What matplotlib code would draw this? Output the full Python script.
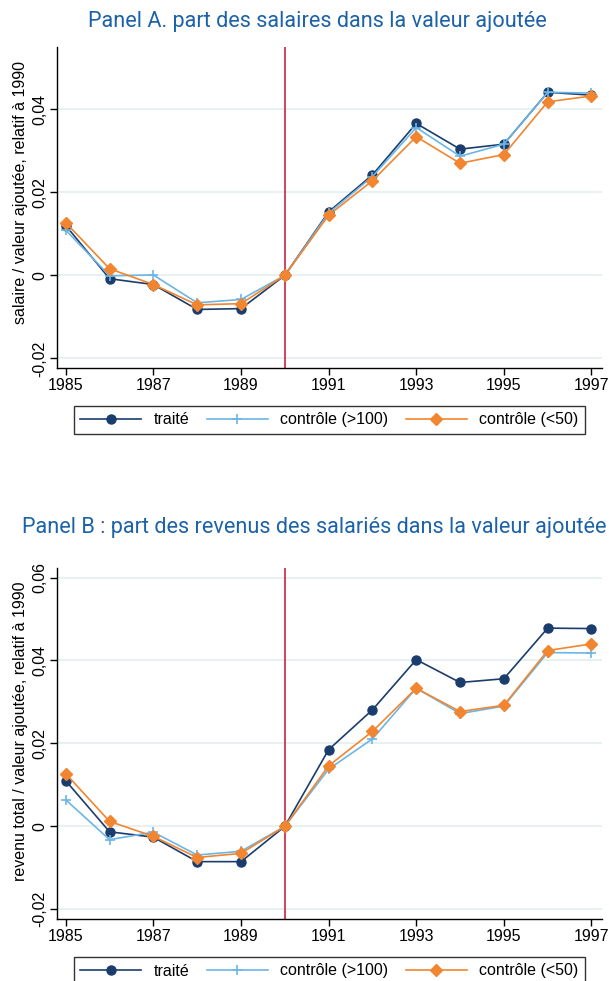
import matplotlib
matplotlib.use("Agg")
import matplotlib.pyplot as plt
from matplotlib.lines import Line2D

years = [1985, 1986, 1987, 1988, 1989, 1990, 1991, 1992, 1993, 1994, 1995, 1996, 1997]

# Panel A
a_traite = [0.0120, -0.0008, -0.0022, -0.0082, -0.0080, 0.0, 0.0153, 0.0242, 0.0366, 0.0304, 0.0316, 0.0441, 0.0434]
a_ctrl100 = [0.0109, -0.0001, 0.0001, -0.0066, -0.0058, 0.0, 0.0150, 0.0238, 0.0356, 0.0287, 0.0316, 0.0441, 0.0439]
a_ctrl50 = [0.0127, 0.0016, -0.0022, -0.0071, -0.0068, 0.0, 0.0145, 0.0228, 0.0334, 0.0270, 0.0291, 0.0418, 0.0432]

# Panel B
b_traite = [0.0110, -0.0013, -0.0026, -0.0085, -0.0085, 0.0, 0.0185, 0.0281, 0.0402, 0.0347, 0.0356, 0.0478, 0.0477]
b_ctrl100 = [0.0064, -0.0032, -0.0014, -0.0069, -0.0060, 0.0, 0.0138, 0.0211, 0.0333, 0.0272, 0.0290, 0.0419, 0.0418]
b_ctrl50 = [0.0127, 0.0012, -0.0024, -0.0075, -0.0065, 0.0, 0.0146, 0.0229, 0.0333, 0.0277, 0.0292, 0.0424, 0.0440]

series_labels = ["traité", "contrôle (>100)", "contrôle (<50)"]
xticks = [1985, 1987, 1989, 1991, 1993, 1995, 1997]
a_yticks = [-0.02, 0, 0.02, 0.04]
a_yticklabels = ["-0,02", "0", "0,02", "0,04"]
b_yticks = [-0.02, 0, 0.02, 0.04, 0.06]
b_yticklabels = ["-0,02", "0", "0,02", "0,04", "0,06"]

title_a = "Panel A. part des salaires dans la valeur ajoutée"
title_b = "Panel B : part des revenus des salariés dans la valeur ajoutée"
ylabel_a = "salaire / valeur ajoutée, relatif à 1990"
ylabel_b = "revenu total / valeur ajoutée, relatif à 1990"

C_NAVY = "#1a3d6d"
C_LIGHT = "#6cb6e6"
C_ORANGE = "#f28530"
C_RED = "#c8102e"
C_TITLE = "#1c62a8"
C_GRID = "#e3efef"

plt.rcParams["font.family"] = ["Liberation Sans", "DejaVu Sans"]

W, H = 609, 981
fig = plt.figure(figsize=(W / 100, H / 100), dpi=100)


def px_axes(l, r, t, b):
    return fig.add_axes([l / W, 1 - b / H, (r - l) / W, (b - t) / H])


def draw(ax, tr, c100, c50, yticks, yticklabels, ylim, ylabel, label_y):
    ax.axvline(1990, color=C_RED, lw=1.1, zorder=2)
    ax.plot(years, tr, color=C_NAVY, marker="o", ms=6.5, lw=1.2, zorder=3)
    ax.plot(years, c100, color=C_LIGHT, marker="+", ms=7, mew=1.2, lw=1.2, zorder=4)
    ax.plot(years, c50, color=C_ORANGE, marker="D", ms=6.5, lw=1.2, zorder=5)
    ax.set_xlim(1984.8, 1997.24)
    ax.set_ylim(*ylim)
    ax.set_xticks(xticks)
    ax.set_xticklabels([str(x) for x in xticks], fontsize=11.5)
    ax.set_yticks(yticks)
    ax.set_yticklabels(yticklabels, fontsize=11.5, rotation=90, va="center")
    ax.yaxis.grid(True, color=C_GRID, lw=1.2)
    ax.set_axisbelow(True)
    for s in ["top", "right"]:
        ax.spines[s].set_visible(False)
    for s in ["left", "bottom"]:
        ax.spines[s].set_color("black")
        ax.spines[s].set_linewidth(1.0)
    ax.tick_params(direction="out", length=5, width=1, color="black", pad=2)
    ax.set_ylabel(ylabel, fontsize=11.5)
    ax.yaxis.set_label_coords(-29 / 545, label_y)


axA = px_axes(57, 602, 47, 368)
draw(axA, a_traite, a_ctrl100, a_ctrl50, a_yticks, a_yticklabels, (-0.0223, 0.055), ylabel_a, 0.548)
axB = px_axes(57, 602, 568, 919.3)
draw(axB, b_traite, b_ctrl100, b_ctrl50, b_yticks, b_yticklabels, (-0.0224, 0.0623), ylabel_b, 0.535)

fig.text(317 / W, 1 - 22 / H, title_a, color=C_TITLE, fontsize=15.6,
         family=["Roboto", "DejaVu Sans"], ha="center", va="center")
fig.text(22 / W, 1 - 527 / H, title_b, color=C_TITLE, fontsize=15.6,
         family=["Roboto", "DejaVu Sans"], ha="left", va="center")

handles = [
    Line2D([], [], color=C_NAVY, marker="o", ms=6.5, lw=1.2),
    Line2D([], [], color=C_LIGHT, marker="+", ms=7, mew=1.2, lw=1.2),
    Line2D([], [], color=C_ORANGE, marker="D", ms=6.5, lw=1.2),
]


def add_legend(y_top):
    h = 30
    leg = fig.legend(handles, series_labels, ncol=3, mode="expand",
                     bbox_to_anchor=(74 / W, 1 - (y_top + h) / H, 511 / W, h / H),
                     loc="center", fontsize=11.5, frameon=True, fancybox=False,
                     edgecolor="black", handlelength=3.8, handletextpad=0.8,
                     borderaxespad=0, borderpad=0.4, columnspacing=1.5)
    leg.get_frame().set_linewidth(1.0)
    return leg


add_legend(405)
add_legend(956)

fig.savefig("out.png", dpi=100, facecolor="white")
